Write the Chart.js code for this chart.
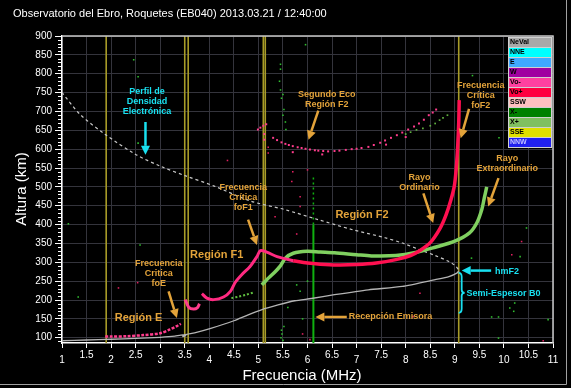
<!DOCTYPE html>
<html>
<head>
<meta charset="utf-8">
<script src="https://cdn.jsdelivr.net/npm/chart.js@4.4.0/dist/chart.umd.min.js"></script>
<style>
  html, body { margin: 0; padding: 0; background: #000; }
  #wrap { width: 571px; height: 388px; }
</style>
</head>
<body>
<div id="wrap"><canvas id="ionogram" width="571" height="388"></canvas></div>
<script>
// Axis ticks
const freqTicks = [1, 1.5, 2, 2.5, 3, 3.5, 4, 4.5, 5, 5.5, 6, 6.5, 7, 7.5, 8, 8.5, 9, 9.5, 10, 10.5, 11];
const heightTicks = [100, 150, 200, 250, 300, 350, 400, 450, 500, 550, 600, 650, 700, 750, 800, 850, 900];

// Legend
const legendLabels = ['NeVal', 'NNE', 'E', 'W', 'Vo-', 'Vo+', 'SSW', 'X-', 'X+', 'SSE', 'NNW'];
const legendColors = ['#a8a8a8', '#00ffff', '#40a8ff', '#a000a0', '#ff40a0', '#ff0040', '#ffc0c0', '#008000', '#80c060', '#e0e000', '#2020f0'];

// Critical frequencies (yellow markers) and emitter frequency (MHz)
const criticalFreqs = [1.9, 3.5, 3.57, 5.1, 5.14, 9.08];
const emitterFreq = 6.12;

// Ordinary ray traces [MHz, km]
const oTraceE = [[1.88,103],[2.0,103],[2.32,104],[2.66,107],[3.0,112],[3.2,122],[3.34,131],[3.42,137]];
const oTraceF1a = [[3.51,201],[3.58,181],[3.68,176],[3.76,180],[3.8,190]];
const oTraceF1b = [[3.85,217],[3.95,205],[4.09,201],[4.29,208],[4.43,223],[4.53,247],[4.66,267],[4.83,289],[4.97,315],[5.04,331],[5.17,327],[5.38,315],[5.71,304]];
const oTraceF2 = [[5.71,304],[6.0,298],[6.26,295],[6.6,293],[7.0,294],[7.4,298],[7.8,307],[8.1,318],[8.3,332],[8.5,352],[8.7,390],[8.82,425],[8.92,465],[8.99,502],[9.03,550],[9.06,610],[9.08,670],[9.09,730]];

// Extraordinary ray traces
const xTraceF1 = [[4.45,205],[4.6,209],[4.75,214],[4.9,220]];
const xTraceF2 = [[5.07,240],[5.17,254],[5.31,271],[5.44,289],[5.55,311],[5.71,324],[5.99,329],[6.26,327],[6.55,325],[7.0,320],[7.3,317],[7.8,318],[8.2,326],[8.6,340],[9.0,356],[9.3,378],[9.45,405],[9.55,440],[9.6,470],[9.65,500]];

// Second echo F2
const echo2O = [[4.99,652],[5.04,657],[5.1,662],[5.16,666],[5.12,640],[5.12,625],[5.3,630],[5.38,624],[5.47,618],[5.55,614],[5.62,611],[5.7,608],[5.8,605],[5.88,603],[5.96,601],[6.05,599],[6.15,597],[6.22,596],[6.32,595],[6.42,594],[6.55,595],[6.65,596],[6.78,598],[6.9,600],[7.0,601],[7.1,603],[7.24,606],[7.35,611],[7.48,617],[7.58,623],[7.7,630],[7.82,637],[7.93,644],[8.05,652],[8.17,660],[8.27,668],[8.37,678],[8.47,690],[8.55,697],[8.62,705],[5.7,592],[6.3,586],[7.6,612],[8.0,632]];
const echo2X = [[8.0,640],[8.1,645],[8.22,651],[8.35,655],[8.5,662],[8.6,668],[8.69,677],[8.76,683],[8.85,690]];

// Profiles
const trueHeight = [[1.0,92],[1.5,94],[2.0,96],[2.5,98],[3.0,101],[3.3,104],[3.42,107],[3.52,106],[3.46,103],[3.5,108],[3.7,113],[4.03,125],[4.5,145],[4.78,160],[5.06,174],[5.4,187],[5.74,198],[6.08,204],[6.55,214],[7.24,227],[7.93,236],[8.6,254],[8.88,262],[9.05,272],[9.08,277]];
const densityProfile = [[1.0,750],[1.37,692],[1.88,639],[2.5,586],[3.0,555],[3.52,529],[4.1,502],[4.85,462],[5.53,440],[6.22,413],[6.9,387],[7.58,365],[7.93,351],[8.27,334],[8.6,318],[8.88,302],[9.0,292],[9.08,280]];

// Scattered echoes
const noiseGreen = [[2.46,837],[2.55,792],[2.55,616],[5.45,825],[5.45,812],[5.43,780],[5.45,757],[5.5,745],[5.47,735],[5.52,705],[5.5,690],[5.55,672],[5.56,652],[5.96,877],[1.33,208],[2.59,346],[5.85,223],[9.9,630],[9.36,795],[10.46,391],[10.33,315],[9.34,311],[10.12,179],[10.2,170],[10.22,192],[10.9,148],[9.75,155],[9.89,155],[9.89,99],[5.47,120],[5.48,110],[5.46,100],[5.5,93],[5.52,130],[5.9,150],[6.0,250],[5.78,240],[5.6,180],[1.13,402]];
const noiseRed = [[4.37,570],[5.85,474],[5.85,448],[5.34,421],[5.68,514],[2.15,232],[2.54,246],[5.78,375],[10.36,355],[10.16,320],[8.29,218],[8.15,156],[6.0,545],[5.7,540],[5.2,590],[5.2,605],[5.9,110],[6.05,95],[10.8,92]];

// Annotations (data coords)
const ORANGE = '#e3a33a';
const CYAN = '#19e0f0';
const notes = [
  { lines: ['Perfil de', 'Densidad', 'Electrónica'], f: 2.73, h: 752, color: CYAN },
  { lines: ['Segundo Eco', 'Región F2'], f: 6.39, h: 744, color: ORANGE },
  { lines: ['Frecuencia', 'Crítica', 'foF2'], f: 9.53, h: 770, color: ORANGE },
  { lines: ['Rayo', 'Extraordinario'], f: 10.07, h: 574, color: ORANGE },
  { lines: ['Rayo', 'Ordinario'], f: 8.28, h: 525, color: ORANGE },
  { lines: ['Frecuencia', 'Crítica', 'foF1'], f: 4.69, h: 497, color: ORANGE },
  { lines: ['Frecuencia', 'Critica', 'foE'], f: 2.97, h: 298, color: ORANGE },
  { lines: ['hmF2'], f: 9.82, h: 276, color: CYAN, align: 'left' },
  { lines: ['Semi-Espesor B0'], f: 9.24, h: 217, color: CYAN, align: 'left' },
  { lines: ['Recepción Emisora'], f: 6.84, h: 155, color: ORANGE, align: 'left' },
  { lines: ['Región F2'], f: 7.11, h: 426, color: ORANGE, big: true },
  { lines: ['Región F1'], f: 4.15, h: 320, color: ORANGE, big: true },
  { lines: ['Región E'], f: 2.56, h: 153, color: ORANGE, big: true }
];
const arrows = [
  { from: [2.70, 672], to: [2.70, 585], color: CYAN },
  { from: [6.22, 702], to: [6.02, 625], color: ORANGE },
  { from: [9.29, 707], to: [9.12, 629], color: ORANGE },
  { from: [9.89, 523], to: [9.68, 448], color: ORANGE },
  { from: [8.36, 483], to: [8.56, 404], color: ORANGE },
  { from: [4.79, 413], to: [4.97, 346], color: ORANGE },
  { from: [3.17, 223], to: [3.34, 152], color: ORANGE },
  { from: [9.74, 278], to: [9.14, 278], color: CYAN },
  { from: [6.80, 155], to: [6.16, 155], color: ORANGE }
];
const brace = { f: 9.14, top: 272, bottom: 166, color: CYAN };

const FONT = "'Liberation Sans', Arial, sans-serif";
const xy = arr => arr.map(([x, y]) => ({ x, y }));

function lineSet(data, color, width, extra) {
  return Object.assign({
    data: xy(data), showLine: true, borderColor: color, borderWidth: width,
    pointRadius: 0, tension: 0.3, fill: false
  }, extra || {});
}
function dotSet(data, color, r, extra) {
  return Object.assign({
    data: xy(data), showLine: false, backgroundColor: color, borderWidth: 0,
    pointRadius: r, pointStyle: 'rect'
  }, extra || {});
}

const datasets = [];
criticalFreqs.forEach(f => {
  datasets.push(lineSet([[f, 86], [f, 900]], '#a89c28', 1.6, { tension: 0, order: 10 }));
});
datasets.push(lineSet([[emitterFreq, 86], [emitterFreq, 400]], '#10b010', 2, { tension: 0, order: 9 }));
datasets.push(lineSet([[emitterFreq, 400], [emitterFreq, 530]], '#10b010', 1.5, { tension: 0, borderDash: [2, 3], order: 9 }));
datasets.push(lineSet(trueHeight, '#b4b4b4', 1.3, { tension: 0.2, order: 8 }));
datasets.push(lineSet(densityProfile, '#c8c8c8', 1.2, { borderDash: [3, 3], order: 8 }));
datasets.push(dotSet(noiseGreen, '#30c030', 1.1, { order: 7 }));
datasets.push(dotSet(noiseRed, '#e02060', 1.1, { order: 7 }));
datasets.push(dotSet(echo2X, '#60b040', 1.2, { order: 6 }));
datasets.push(dotSet(echo2O, '#ff3c8c', 1.4, { order: 6 }));
datasets.push(lineSet(xTraceF1, '#60c040', 2, { borderDash: [2, 2], order: 3 }));
datasets.push(lineSet(xTraceF2, '#80d060', 3.5, { order: 3 }));
datasets.push(lineSet(oTraceE, '#ff3c8c', 2.5, { borderDash: [3, 1.5], order: 2 }));
datasets.push(lineSet(oTraceF1a, '#ff3c8c', 3, { order: 2 }));
datasets.push(lineSet(oTraceF1b, '#ff2a80', 3, { order: 2 }));
datasets.push(lineSet(oTraceF2, '#ff1050', 3.5, { order: 1 }));

function drawArrow(ctx, x1, y1, x2, y2, color) {
  const a = Math.atan2(y2 - y1, x2 - x1);
  const hl = 9, hw = 4.5;
  const bx = x2 - hl * Math.cos(a), by = y2 - hl * Math.sin(a);
  ctx.strokeStyle = color;
  ctx.fillStyle = color;
  ctx.lineWidth = 2.5;
  ctx.beginPath();
  ctx.moveTo(x1, y1);
  ctx.lineTo(bx, by);
  ctx.stroke();
  ctx.beginPath();
  ctx.moveTo(x2, y2);
  ctx.lineTo(bx + hw * Math.sin(a), by - hw * Math.cos(a));
  ctx.lineTo(bx - hw * Math.sin(a), by + hw * Math.cos(a));
  ctx.closePath();
  ctx.fill();
}

const decor = {
  id: 'decor',
  beforeDraw(chart) {
    const ctx = chart.ctx;
    ctx.save();
    ctx.fillStyle = '#000';
    ctx.fillRect(0, 0, chart.width, chart.height);
    ctx.restore();
  },
  afterDraw(chart) {
    const ctx = chart.ctx;
    const ca = chart.chartArea;
    const sx = chart.scales.x, sy = chart.scales.y;
    ctx.save();

    // frame top/right
    ctx.strokeStyle = '#c8c8c8';
    ctx.lineWidth = 1.5;
    ctx.beginPath();
    ctx.moveTo(ca.left, ca.top);
    ctx.lineTo(ca.right, ca.top);
    ctx.lineTo(ca.right, ca.bottom);
    ctx.stroke();

    // minor ticks on height axis
    ctx.strokeStyle = '#ffffff';
    ctx.lineWidth = 1;
    for (let h = 90; h <= 900; h += 10) {
      if (h % 50 === 0) continue;
      const y = Math.round(sy.getPixelForValue(h)) + 0.5;
      ctx.beginPath();
      ctx.moveTo(ca.left - 4, y);
      ctx.lineTo(ca.left, y);
      ctx.stroke();
    }

    // frequency labels, staggered
    ctx.fillStyle = '#ffffff';
    ctx.font = '10px ' + FONT;
    ctx.textAlign = 'center';
    ctx.textBaseline = 'middle';
    freqTicks.forEach(v => {
      const y = Number.isInteger(v) ? ca.bottom + 17 : ca.bottom + 12.5;
      ctx.fillText(String(v), sx.getPixelForValue(v), y);
    });

    // title and axis titles
    ctx.textAlign = 'left';
    ctx.font = '11px ' + FONT;
    ctx.fillText('Observatorio del Ebro, Roquetes (EB040) 2013.03.21 / 12:40:00', 13, 14);
    ctx.textAlign = 'center';
    ctx.font = '15px ' + FONT;
    ctx.fillText('Frecuencia (MHz)', 302, 376);
    ctx.save();
    ctx.translate(22, 189);
    ctx.rotate(-Math.PI / 2);
    ctx.fillText('Altura (km)', 0, 0);
    ctx.restore();

    // annotations
    notes.forEach(n => {
      ctx.fillStyle = n.color;
      ctx.font = (n.big ? 'bold 11px ' : 'bold 9px ') + FONT;
      ctx.textAlign = n.align || 'center';
      const x = sx.getPixelForValue(n.f);
      const y0 = sy.getPixelForValue(n.h);
      n.lines.forEach((t, i) => ctx.fillText(t, x, y0 + i * 10));
    });
    arrows.forEach(a => {
      drawArrow(ctx, sx.getPixelForValue(a.from[0]), sy.getPixelForValue(a.from[1]),
        sx.getPixelForValue(a.to[0]), sy.getPixelForValue(a.to[1]), a.color);
    });
    const bx = sx.getPixelForValue(brace.f);
    const by1 = sy.getPixelForValue(brace.top), by2 = sy.getPixelForValue(brace.bottom);
    const bm = (by1 + by2) / 2;
    ctx.strokeStyle = brace.color;
    ctx.lineWidth = 1.8;
    ctx.beginPath();
    ctx.moveTo(bx - 3, by1);
    ctx.quadraticCurveTo(bx, by1, bx, by1 + 4);
    ctx.lineTo(bx, bm - 3);
    ctx.quadraticCurveTo(bx, bm, bx + 3, bm);
    ctx.quadraticCurveTo(bx, bm, bx, bm + 3);
    ctx.lineTo(bx, by2 - 4);
    ctx.quadraticCurveTo(bx, by2, bx - 3, by2);
    ctx.stroke();

    // legend
    ctx.font = 'bold 7px ' + FONT;
    ctx.textAlign = 'left';
    legendLabels.forEach((lab, i) => {
      const y = 37 + i * 10;
      ctx.fillStyle = legendColors[i];
      ctx.fillRect(508, y, 43, 10);
      ctx.strokeStyle = '#d0d0d0';
      ctx.lineWidth = 1;
      ctx.strokeRect(508.5, y + 0.5, 43, 10);
      ctx.fillStyle = lab === 'NNW' ? '#c0c0ff' : '#000000';
      ctx.fillText(lab, 510, y + 5.5);
    });

    // outer frame
    ctx.strokeStyle = '#a0a0a0';
    ctx.lineWidth = 1;
    ctx.beginPath();
    ctx.moveTo(566.5, 0);
    ctx.lineTo(566.5, 384.5);
    ctx.lineTo(0, 384.5);
    ctx.stroke();
    ctx.restore();
  }
};

new Chart(document.getElementById('ionogram'), {
  type: 'scatter',
  data: { datasets },
  options: {
    responsive: false,
    animation: false,
    events: [],
    layout: { padding: { top: 36, right: 18, left: 0, bottom: 0 } },
    plugins: { legend: { display: false }, tooltip: { enabled: false } },
    scales: {
      x: {
        type: 'linear', min: 1, max: 11,
        afterBuildTicks: s => { s.ticks = freqTicks.map(v => ({ value: v })); },
        afterFit: s => { s.height = 45; },
        ticks: { display: false },
        grid: { color: '#34343c', tickColor: '#ffffff', tickLength: 5 },
        border: { color: '#ffffff', width: 1.5 }
      },
      y: {
        type: 'linear', min: 86, max: 900,
        afterBuildTicks: s => { s.ticks = heightTicks.map(v => ({ value: v })); },
        afterFit: s => { s.width = 62; },
        ticks: { color: '#ffffff', font: { family: FONT, size: 10 }, padding: 3 },
        grid: { color: '#34343c', tickColor: '#ffffff', tickLength: 7 },
        border: { color: '#ffffff', width: 1.5 }
      }
    }
  },
  plugins: [decor]
});
</script>
</body>
</html>
